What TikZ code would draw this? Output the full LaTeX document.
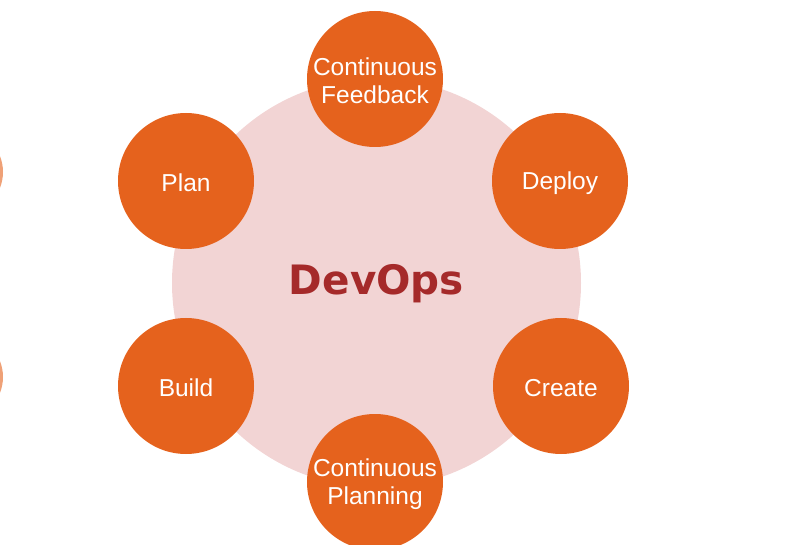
\documentclass[tikz,border=0pt]{standalone}
\usepackage{fontspec}
\setmainfont{Liberation Sans}
\newfontfamily\dejavu{DejaVu Sans}
\definecolor{orng}{RGB}{229,98,29}
\definecolor{pnk}{RGB}{242,212,212}
\definecolor{dred}{RGB}{165,42,42}
\begin{document}
\begin{tikzpicture}[x=1pt,y=-1pt,
  stage/.style={circle,fill=orng,minimum size=136pt,inner sep=0pt},
  lbl/.style={text=white,align=center,inner sep=0pt,font=\fontsize{24.5}{28}\selectfont},
  hub/.style={circle,fill=pnk,minimum size=409pt,inner sep=0pt},
  hubtext/.style={text=dred,inner sep=0pt,font=\dejavu\bfseries\fontsize{40.5}{44}\selectfont}]
\useasboundingbox (0,0) rectangle (809,545);
\begin{scope}
\clip (0,0) rectangle (809,545);
\fill[orng!60] (-40,172) circle (43);
\fill[orng!60] (-40,377) circle (43);
\node[hub] (hub) at (376.5,283) {};
\node[hubtext] (hubl) at ([yshift=-1pt]hub.center) {DevOps};
\node[stage] (fb) at (375,79) {};
\node[stage] (deploy) at (560,181) {};
\node[stage] (create) at (561,386) {};
\node[stage] (cp) at (375,482) {};
\node[stage] (build) at (186,386) {};
\node[stage] (plan) at (186,181) {};
\node[lbl] (fbl) at ([yshift=-2pt]fb.center) {Continuous\\Feedback};
\node[lbl] (deployl) at ([yshift=-2pt]deploy.center) {Deploy};
\node[lbl] (createl) at ([yshift=-2pt]create.center) {Create};
\node[lbl] (cpl) at ([yshift=-2pt]cp.center) {Continuous\\Planning};
\node[lbl] (buildl) at ([yshift=-2pt]build.center) {Build};
\node[lbl] (planl) at ([yshift=-2pt]plan.center) {Plan};
\end{scope}
\end{tikzpicture}
\end{document}
